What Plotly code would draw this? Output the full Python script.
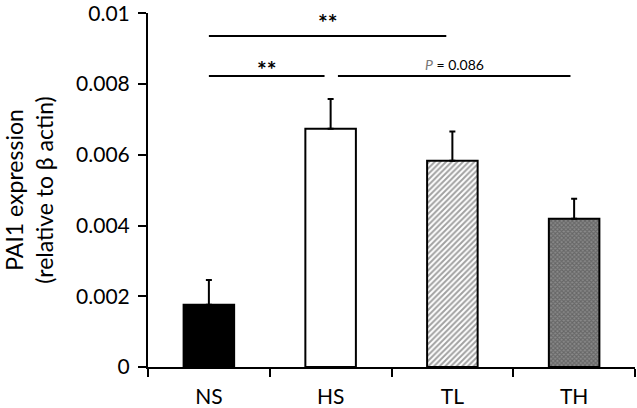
import plotly.graph_objects as go

categories = ["NS", "HS", "TL", "TH"]
means = [0.00176, 0.00674, 0.00583, 0.00419]
sems = [0.00070, 0.00084, 0.00083, 0.00057]
y_ticks = [0, 0.002, 0.004, 0.006, 0.008, 0.01]
y_tick_labels = ["0", "0.002", "0.004", "0.006", "0.008", "0.01"]

# significance comparisons (category-index units)
sig_x0 = [0.0, 0.0, 1.06]
sig_x1 = [1.95, 0.95, 2.97]
sig_y = [0.00936, 0.00823, 0.00823]
sig_label_y = [0.00975, 0.00842, 0.00856]
sig_text = ["<b>**</b>", "<b>**</b>", "<i><span style='color:#777'>P</span></i> = 0.086"]
sig_size = [23, 23, 14]

FONT = "Lato"
xs = list(range(len(categories)))

fig = go.Figure()

fill_colors = ["black", "white", "white", "#8a8a8a"]
shapes = ["", "", "/", "x"]
fg = ["black", "black", "#111", "#111"]
sizes = [8, 8, 4, 3]
sol = [0.3, 0.3, 0.5, 0.6]

fig.add_trace(go.Bar(
    x=xs, y=means, width=0.415,
    marker=dict(
        color=fill_colors,
        line=dict(color="black", width=2),
        pattern=dict(shape=shapes, fgcolor=fg,
                     size=sizes, solidity=sol, fillmode="overlay"),
    ),
    error_y=dict(type="data", symmetric=False, array=sems,
                 arrayminus=[0] * 4, color="black", thickness=2, width=3),
    showlegend=False, hoverinfo="skip",
))

for x0, x1, y, ly, t, s in zip(sig_x0, sig_x1, sig_y, sig_label_y, sig_text, sig_size):
    fig.add_trace(go.Scatter(x=[x0, x1], y=[y, y], mode="lines",
                             line=dict(color="black", width=2),
                             showlegend=False, hoverinfo="skip"))
    fig.add_annotation(x=(x0 + x1) / 2, y=ly, text=t, showarrow=False,
                       yanchor="middle",
                       font=dict(family=FONT, size=s, color="black"))

# invisible trace for the category label axis
fig.add_trace(go.Scatter(x=xs, y=[None] * 4, xaxis="x2", showlegend=False,
                         hoverinfo="skip"))

fig.update_layout(
    width=637, height=408,
    margin=dict(l=148, r=2, t=13, b=41, autoexpand=False),
    plot_bgcolor="white", paper_bgcolor="white",
    font=dict(family=FONT, color="black"),
    xaxis=dict(range=[-0.5, 3.5], tickvals=[-0.5, 0.5, 1.5, 2.5, 3.5],
               ticktext=[""] * 5, ticks="outside", ticklen=8, tickwidth=2,
               tickcolor="black", showline=True, linecolor="black",
               linewidth=2, showgrid=False, zeroline=False, automargin=False),
    xaxis2=dict(range=[-0.5, 3.5], overlaying="x", side="bottom",
                tickvals=xs, ticktext=categories, ticks="",
                ticklabelstandoff=15, automargin=False,
                tickfont=dict(family=FONT, size=21, color="black"),
                showline=False, showgrid=False, zeroline=False),
    yaxis=dict(range=[0, 0.01001], tickvals=y_ticks, ticktext=y_tick_labels,
               ticks="outside", ticklen=8, tickwidth=2, tickcolor="black",
               showline=True, linecolor="black", linewidth=2,
               showgrid=False, zeroline=False, automargin=False,
               ticklabelstandoff=4, ticklabeloverflow="allow",
               tickfont=dict(family=FONT, size=21, color="black"),
               title=dict(text="PAI1 expression<br>(relative to β actin)",
                          font=dict(family=FONT, size=23, color="black"),
                          standoff=20)),
)

fig.write_html("out.html", config={"displayModeBar": False},
               post_script="document.body.style.margin='0';")
